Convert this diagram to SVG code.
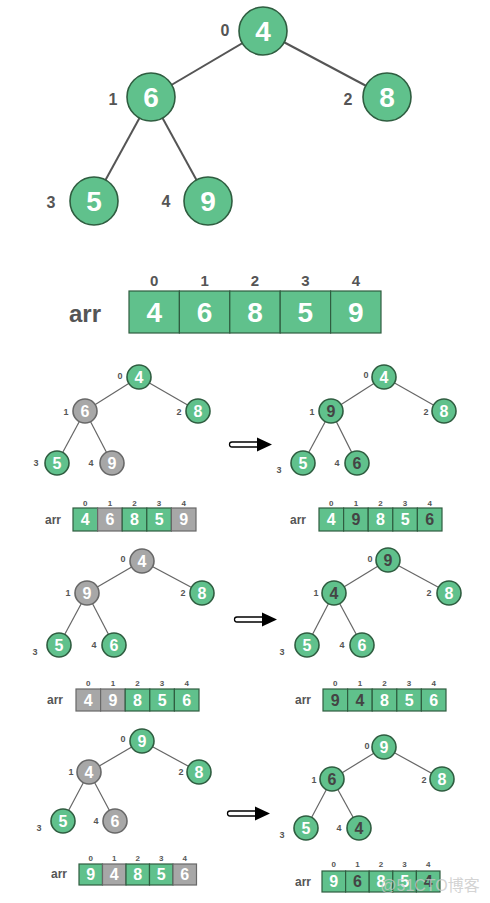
<svg xmlns="http://www.w3.org/2000/svg" xmlns:xlink="http://www.w3.org/1999/xlink" width="490" height="903" viewBox="0 0 490 903">
<style>
text{font-family:"Liberation Sans",Arial,sans-serif;font-weight:bold;text-anchor:middle}
.g{fill:#60c18c;stroke:#2f5d40;stroke-width:1.6}
.y{fill:#a7a7a7;stroke:#686868;stroke-width:1.6}
.gc{fill:#60c18c;stroke:#2f5d40;stroke-width:1.2}
.yc{fill:#a7a7a7;stroke:#686868;stroke-width:1.2}
.big{font-size:28px;fill:#fff}
.blbl{font-size:16px;fill:#555}
.sd{font-size:16px;fill:#fff}
.dk{fill:#444}
.slbl{font-size:9px;fill:#555}
.idx{font-size:8px;fill:#555}
.arr{font-size:12px;fill:#555}
.e{stroke:#555;stroke-width:2}
.se{stroke:#666;stroke-width:1.2}
</style>
<defs>
<g id="bigarrow">
<path d="M0,-2.5 H26 V2.5 H0 A2.5,2.5 0 0 1 0,-2.5 Z" fill="#fff" stroke="#000" stroke-width="1.3"/>
<path d="M25,-7 L40,0 L25,7 Z" fill="#000"/>
</g>
</defs>
<g id="connectors">
<line class="e" x1="263" y1="31" x2="151" y2="97"/>
<line class="e" x1="263" y1="31" x2="387" y2="97"/>
<line class="e" x1="151" y1="97" x2="94" y2="201"/>
<line class="e" x1="151" y1="97" x2="208" y2="201"/>
<line class="se" x1="139" y1="377" x2="85" y2="411"/>
<line class="se" x1="139" y1="377" x2="198" y2="411"/>
<line class="se" x1="85" y1="411" x2="57" y2="463"/>
<line class="se" x1="85" y1="411" x2="112" y2="463"/>
<line class="se" x1="384" y1="377" x2="331" y2="411"/>
<line class="se" x1="384" y1="377" x2="444" y2="411"/>
<line class="se" x1="331" y1="411" x2="303" y2="463"/>
<line class="se" x1="331" y1="411" x2="357" y2="463"/>
<line class="se" x1="142" y1="561" x2="87" y2="593"/>
<line class="se" x1="142" y1="561" x2="202" y2="593"/>
<line class="se" x1="87" y1="593" x2="59" y2="645"/>
<line class="se" x1="87" y1="593" x2="114" y2="645"/>
<line class="se" x1="388" y1="560" x2="334" y2="593"/>
<line class="se" x1="388" y1="560" x2="449" y2="593"/>
<line class="se" x1="334" y1="593" x2="307" y2="645"/>
<line class="se" x1="334" y1="593" x2="362" y2="645"/>
<line class="se" x1="142" y1="741" x2="89" y2="772"/>
<line class="se" x1="142" y1="741" x2="199" y2="772"/>
<line class="se" x1="89" y1="772" x2="63" y2="821"/>
<line class="se" x1="89" y1="772" x2="115" y2="821"/>
<line class="se" x1="384" y1="747" x2="332" y2="779"/>
<line class="se" x1="384" y1="747" x2="442" y2="779"/>
<line class="se" x1="332" y1="779" x2="306" y2="828"/>
<line class="se" x1="332" y1="779" x2="359" y2="828"/>
<use xlink:href="#bigarrow" href="#bigarrow" transform="translate(232,444.5)"/>
<use xlink:href="#bigarrow" href="#bigarrow" transform="translate(237,619.5)"/>
<use xlink:href="#bigarrow" href="#bigarrow" transform="translate(230,813.5)"/>
</g>
<!-- top tree -->
<g id="t-n0"><circle class="g" cx="263" cy="31" r="24"/><text class="big" x="263" y="41">4</text><text class="blbl" x="225" y="35.7">0</text></g>
<g id="t-n1"><circle class="g" cx="151" cy="97" r="24"/><text class="big" x="151" y="107">6</text><text class="blbl" x="113" y="104.7">1</text></g>
<g id="t-n2"><circle class="g" cx="387" cy="97" r="24"/><text class="big" x="387" y="107">8</text><text class="blbl" x="348" y="104.7">2</text></g>
<g id="t-n3"><circle class="g" cx="94" cy="201" r="24"/><text class="big" x="94" y="211">5</text><text class="blbl" x="51" y="207.7">3</text></g>
<g id="t-n4"><circle class="g" cx="208" cy="201" r="24"/><text class="big" x="208" y="211">9</text><text class="blbl" x="166" y="206.7">4</text></g>
<!-- top array -->
<g id="t-arr">
<text x="85" y="322" style="font-size:24px;fill:#555">arr</text>
<rect class="gc" x="129" y="291" width="50.4" height="42"/>
<rect class="gc" x="179.4" y="291" width="50.4" height="42"/>
<rect class="gc" x="229.8" y="291" width="50.4" height="42"/>
<rect class="gc" x="280.2" y="291" width="50.4" height="42"/>
<rect class="gc" x="330.6" y="291" width="50.4" height="42"/>
<text class="big" x="154.2" y="322">4</text><text class="big" x="204.6" y="322">6</text><text class="big" x="255" y="322">8</text><text class="big" x="305.4" y="322">5</text><text class="big" x="355.8" y="322">9</text>
<g style="font-size:15px;fill:#555"><text x="154.2" y="285.5">0</text><text x="204.6" y="285.5">1</text><text x="255" y="285.5">2</text><text x="305.4" y="285.5">3</text><text x="355.8" y="285.5">4</text></g>
</g>
<!-- step 1 left -->
<g id="s1l-n0"><circle class="g" cx="139" cy="377" r="12"/><text class="sd" x="139" y="382.7">4</text><text class="slbl" x="120" y="379.2">0</text></g>
<g id="s1l-n1"><circle class="y" cx="85" cy="411" r="12"/><text class="sd" x="85" y="416.7">6</text><text class="slbl" x="66" y="415.2">1</text></g>
<g id="s1l-n2"><circle class="g" cx="198" cy="411" r="12"/><text class="sd" x="198" y="416.7">8</text><text class="slbl" x="179" y="415.2">2</text></g>
<g id="s1l-n3"><circle class="g" cx="57" cy="463" r="12"/><text class="sd" x="57" y="468.7">5</text><text class="slbl" x="36" y="466.2">3</text></g>
<g id="s1l-n4"><circle class="y" cx="112" cy="463" r="12"/><text class="sd" x="112" y="468.7">9</text><text class="slbl" x="91" y="466.2">4</text></g>
<g id="s1l-arr">
<text class="arr" x="53" y="524">arr</text>
<rect class="gc" x="73" y="508" width="24.6" height="23"/><rect class="yc" x="97.6" y="508" width="24.6" height="23"/><rect class="gc" x="122.2" y="508" width="24.6" height="23"/><rect class="gc" x="146.8" y="508" width="24.6" height="23"/><rect class="yc" x="171.4" y="508" width="24.6" height="23"/>
<text class="sd" x="85.3" y="525.2">4</text><text class="sd" x="109.9" y="525.2">6</text><text class="sd" x="134.5" y="525.2">8</text><text class="sd" x="159.1" y="525.2">5</text><text class="sd" x="183.7" y="525.2">9</text>
<text class="idx" x="85.3" y="505.9">0</text><text class="idx" x="109.9" y="505.9">1</text><text class="idx" x="134.5" y="505.9">2</text><text class="idx" x="159.1" y="505.9">3</text><text class="idx" x="183.7" y="505.9">4</text>
</g>
<!-- step 1 right -->
<g id="s1r-n0"><circle class="g" cx="384" cy="377" r="12"/><text class="sd" x="384" y="382.7">4</text><text class="slbl" x="366" y="378.2">0</text></g>
<g id="s1r-n1"><circle class="g" cx="331" cy="411" r="12"/><text class="sd dk" x="331" y="416.7">9</text><text class="slbl" x="312" y="415.2">1</text></g>
<g id="s1r-n2"><circle class="g" cx="444" cy="411" r="12"/><text class="sd" x="444" y="416.7">8</text><text class="slbl" x="426" y="415.2">2</text></g>
<g id="s1r-n3"><circle class="g" cx="303" cy="463" r="12"/><text class="sd" x="303" y="468.7">5</text><text class="slbl" x="279" y="473.2">3</text></g>
<g id="s1r-n4"><circle class="g" cx="357" cy="463" r="12"/><text class="sd dk" x="357" y="468.7">6</text><text class="slbl" x="337" y="466.2">4</text></g>
<g id="s1r-arr">
<text class="arr" x="298" y="524">arr</text>
<rect class="gc" x="319" y="508" width="24.6" height="23"/><rect class="gc" x="343.6" y="508" width="24.6" height="23"/><rect class="gc" x="368.2" y="508" width="24.6" height="23"/><rect class="gc" x="392.8" y="508" width="24.6" height="23"/><rect class="gc" x="417.4" y="508" width="24.6" height="23"/>
<text class="sd" x="331.3" y="525.2">4</text><text class="sd dk" x="355.9" y="525.2">9</text><text class="sd" x="380.5" y="525.2">8</text><text class="sd" x="405.1" y="525.2">5</text><text class="sd dk" x="429.7" y="525.2">6</text>
<text class="idx" x="331.3" y="505.9">0</text><text class="idx" x="355.9" y="505.9">1</text><text class="idx" x="380.5" y="505.9">2</text><text class="idx" x="405.1" y="505.9">3</text><text class="idx" x="429.7" y="505.9">4</text>
</g>
<!-- step 2 left -->
<g id="s2l-n0"><circle class="y" cx="142" cy="561" r="12"/><text class="sd" x="142" y="566.7">4</text><text class="slbl" x="123" y="562.2">0</text></g>
<g id="s2l-n1"><circle class="y" cx="87" cy="593" r="12"/><text class="sd" x="87" y="598.7">9</text><text class="slbl" x="68" y="596.2">1</text></g>
<g id="s2l-n2"><circle class="g" cx="202" cy="593" r="12"/><text class="sd" x="202" y="598.7">8</text><text class="slbl" x="183" y="596.2">2</text></g>
<g id="s2l-n3"><circle class="g" cx="59" cy="645" r="12"/><text class="sd" x="59" y="650.7">5</text><text class="slbl" x="35" y="655.2">3</text></g>
<g id="s2l-n4"><circle class="g" cx="114" cy="645" r="12"/><text class="sd" x="114" y="650.7">6</text><text class="slbl" x="94" y="648.2">4</text></g>
<g id="s2l-arr">
<text class="arr" x="55" y="704">arr</text>
<rect class="yc" x="76" y="689" width="24.6" height="22"/><rect class="yc" x="100.6" y="689" width="24.6" height="22"/><rect class="gc" x="125.2" y="689" width="24.6" height="22"/><rect class="gc" x="149.8" y="689" width="24.6" height="22"/><rect class="gc" x="174.4" y="689" width="24.6" height="22"/>
<text class="sd" x="88.3" y="705.7">4</text><text class="sd" x="112.9" y="705.7">9</text><text class="sd" x="137.5" y="705.7">8</text><text class="sd" x="162.1" y="705.7">5</text><text class="sd" x="186.7" y="705.7">6</text>
<text class="idx" x="88.3" y="685.9">0</text><text class="idx" x="112.9" y="685.9">1</text><text class="idx" x="137.5" y="685.9">2</text><text class="idx" x="162.1" y="685.9">3</text><text class="idx" x="186.7" y="685.9">4</text>
</g>
<!-- step 2 right -->
<g id="s2r-n0"><circle class="g" cx="388" cy="560" r="12"/><text class="sd dk" x="388" y="565.7">9</text><text class="slbl" x="370" y="562.2">0</text></g>
<g id="s2r-n1"><circle class="g" cx="334" cy="593" r="12"/><text class="sd dk" x="334" y="598.7">4</text><text class="slbl" x="316" y="596.2">1</text></g>
<g id="s2r-n2"><circle class="g" cx="449" cy="593" r="12"/><text class="sd" x="449" y="598.7">8</text><text class="slbl" x="429" y="596.2">2</text></g>
<g id="s2r-n3"><circle class="g" cx="307" cy="645" r="12"/><text class="sd" x="307" y="650.7">5</text><text class="slbl" x="282" y="655.2">3</text></g>
<g id="s2r-n4"><circle class="g" cx="362" cy="645" r="12"/><text class="sd" x="362" y="650.7">6</text><text class="slbl" x="342" y="648.2">4</text></g>
<g id="s2r-arr">
<text class="arr" x="303" y="704">arr</text>
<rect class="gc" x="323" y="689" width="24.6" height="22"/><rect class="gc" x="347.6" y="689" width="24.6" height="22"/><rect class="gc" x="372.2" y="689" width="24.6" height="22"/><rect class="gc" x="396.8" y="689" width="24.6" height="22"/><rect class="gc" x="421.4" y="689" width="24.6" height="22"/>
<text class="sd dk" x="335.3" y="705.7">9</text><text class="sd dk" x="359.9" y="705.7">4</text><text class="sd" x="384.5" y="705.7">8</text><text class="sd" x="409.1" y="705.7">5</text><text class="sd" x="433.7" y="705.7">6</text>
<text class="idx" x="335.3" y="685.9">0</text><text class="idx" x="359.9" y="685.9">1</text><text class="idx" x="384.5" y="685.9">2</text><text class="idx" x="409.1" y="685.9">3</text><text class="idx" x="433.7" y="685.9">4</text>
</g>
<!-- step 3 left -->
<g id="s3l-n0"><circle class="g" cx="142" cy="741" r="12"/><text class="sd" x="142" y="746.7">9</text><text class="slbl" x="123" y="742.2">0</text></g>
<g id="s3l-n1"><circle class="y" cx="89" cy="772" r="12"/><text class="sd" x="89" y="777.7">4</text><text class="slbl" x="71" y="775.2">1</text></g>
<g id="s3l-n2"><circle class="g" cx="199" cy="772" r="12"/><text class="sd" x="199" y="777.7">8</text><text class="slbl" x="181" y="775.2">2</text></g>
<g id="s3l-n3"><circle class="g" cx="63" cy="821" r="12"/><text class="sd" x="63" y="826.7">5</text><text class="slbl" x="39" y="831.2">3</text></g>
<g id="s3l-n4"><circle class="y" cx="115" cy="821" r="12"/><text class="sd" x="115" y="826.7">6</text><text class="slbl" x="96" y="824.2">4</text></g>
<g id="s3l-arr">
<text class="arr" x="59" y="878">arr</text>
<rect class="gc" x="79" y="864" width="23.5" height="21"/><rect class="yc" x="102.5" y="864" width="23.5" height="21"/><rect class="gc" x="126" y="864" width="23.5" height="21"/><rect class="gc" x="149.5" y="864" width="23.5" height="21"/><rect class="yc" x="173" y="864" width="23.5" height="21"/>
<text class="sd" x="90.75" y="880.2">9</text><text class="sd" x="114.25" y="880.2">4</text><text class="sd" x="137.75" y="880.2">8</text><text class="sd" x="161.25" y="880.2">5</text><text class="sd" x="184.75" y="880.2">6</text>
<text class="idx" x="90.75" y="860.9">0</text><text class="idx" x="114.25" y="860.9">1</text><text class="idx" x="137.75" y="860.9">2</text><text class="idx" x="161.25" y="860.9">3</text><text class="idx" x="184.75" y="860.9">4</text>
</g>
<!-- step 3 right -->
<g id="s3r-n0"><circle class="g" cx="384" cy="747" r="12"/><text class="sd" x="384" y="752.7">9</text><text class="slbl" x="367" y="749.2">0</text></g>
<g id="s3r-n1"><circle class="g" cx="332" cy="779" r="12"/><text class="sd dk" x="332" y="784.7">6</text><text class="slbl" x="314" y="783.2">1</text></g>
<g id="s3r-n2"><circle class="g" cx="442" cy="779" r="12"/><text class="sd" x="442" y="784.7">8</text><text class="slbl" x="424" y="783.2">2</text></g>
<g id="s3r-n3"><circle class="g" cx="306" cy="828" r="12"/><text class="sd" x="306" y="833.7">5</text><text class="slbl" x="282" y="838.2">3</text></g>
<g id="s3r-n4"><circle class="g" cx="359" cy="828" r="12"/><text class="sd dk" x="359" y="833.7">4</text><text class="slbl" x="339" y="831.2">4</text></g>
<g id="s3r-arr">
<text class="arr" x="303" y="886">arr</text>
<rect class="gc" x="322" y="871" width="23.6" height="21"/><rect class="gc" x="345.6" y="871" width="23.6" height="21"/><rect class="gc" x="369.2" y="871" width="23.6" height="21"/><rect class="gc" x="392.8" y="871" width="23.6" height="21"/><rect class="gc" x="416.4" y="871" width="23.6" height="21"/>
<text class="sd" x="333.8" y="887.2">9</text><text class="sd dk" x="357.4" y="887.2">6</text><text class="sd" x="381" y="887.2">8</text><text class="sd" x="404.6" y="887.2">5</text><text class="sd dk" x="428.2" y="887.2">4</text>
<text class="idx" x="333.8" y="866.9">0</text><text class="idx" x="357.4" y="866.9">1</text><text class="idx" x="381" y="866.9">2</text><text class="idx" x="404.6" y="866.9">3</text><text class="idx" x="428.2" y="866.9">4</text>
</g>
<text x="430" y="891" style="font-family:'Liberation Sans','Noto Sans CJK SC',sans-serif;font-weight:normal;font-size:16px;fill:#c8c8c8;fill-opacity:0.8">@51CTO博客</text>
</svg>
